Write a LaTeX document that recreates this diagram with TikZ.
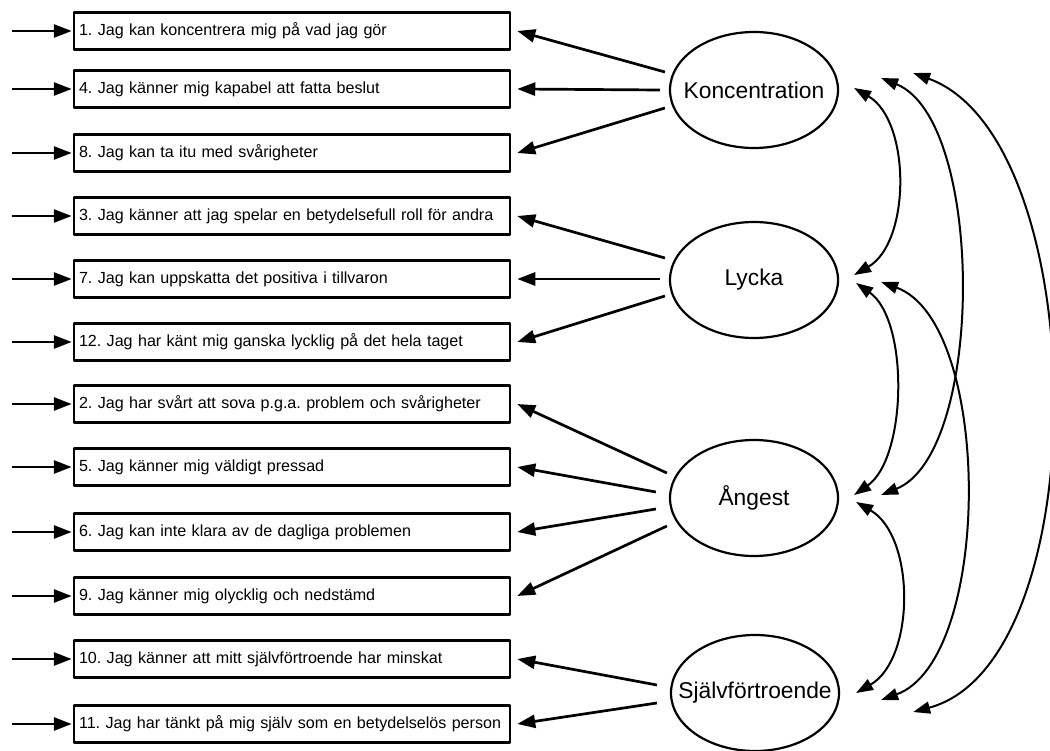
\documentclass[tikz,border=0pt]{standalone}
\usepackage{fontspec}
\setmainfont{Liberation Sans}
\usetikzlibrary{arrows.meta,shapes.geometric}
\tikzset{
  item/.style={draw, line width=2.5pt, minimum height=37pt, inner xsep=5pt, inner ysep=0pt,
    text width=426pt, align=left, font=\fontsize{16.1}{18}\selectfont},
  factor/.style={draw, ellipse, line width=2.2pt, minimum width=168pt, minimum height=116pt,
    inner sep=0pt, font=\fontsize{22.8}{26}\selectfont},
  tip/.style={-{Triangle[length=18pt,width=13pt]}, line width=2.7pt},
  cov/.style={{Triangle[length=17pt,width=12pt]}-{Triangle[length=17pt,width=12pt]}, line width=2pt},
}
\frenchspacing
\begin{document}
\begin{tikzpicture}[x=1pt,y=1pt, line join=round]
  \useasboundingbox (0,0) rectangle (1050,-751);
  % items
  \foreach \n/\y/\t in {1/31/{Jag kan koncentrera mig på vad jag gör},
      4/89/{Jag känner mig kapabel att fatta beslut},
      8/153/{Jag kan ta itu med svårigheter},
      3/216/{Jag känner att jag spelar en betydelsefull roll för andra},
      7/279/{Jag kan uppskatta det positiva i tillvaron},
      12/342/{Jag har känt mig ganska lycklig på det hela taget},
      2/404/{Jag har svårt att sova p.g.a. problem och svårigheter},
      5/467/{Jag känner mig väldigt pressad},
      6/532/{Jag kan inte klara av de dagliga problemen},
      9/596/{Jag känner mig olycklig och nedstämd},
      10/659/{Jag känner att mitt självförtroende har minskat},
      11/724/{Jag har tänkt på mig själv som en betydelselös person}}{
    \node[item] (b\n) at (292,-\y) {\mbox{\n. \t}};
    \draw[tip] ([xshift=-61pt]b\n.west) -- ([xshift=-1pt]b\n.west);
  }
  % factors
  \node[factor] (K) at (754,-90) {\makebox[0pt]{Koncentration}};
  \node[factor] (L) at (754,-280) {\makebox[0pt]{Lycka}};
  \node[factor] (A) at (754,-498) {\makebox[0pt]{Ångest}};
  \node[factor] (S) at (755,-693) {\makebox[0pt]{Självförtroende}};
  % loadings
  \draw[tip] ([xshift=-4pt,yshift=18pt]K.west) -- ([xshift=6pt]b1.east);
  \draw[tip] ([xshift=-9pt]K.west) -- ([xshift=6pt]b4.east);
  \draw[tip] ([xshift=-4pt,yshift=-18pt]K.west) -- ([xshift=6pt]b8.east);
  \draw[tip] ([xshift=-4pt,yshift=22pt]L.west) -- ([xshift=6pt]b3.east);
  \draw[tip] ([xshift=-9pt,yshift=1pt]L.west) -- ([xshift=6pt]b7.east);
  \draw[tip] ([xshift=-4pt,yshift=-16pt]L.west) -- ([xshift=6pt]b12.east);
  \draw[tip] ([xshift=-2pt,yshift=25pt]A.west) -- ([xshift=6pt]b2.east);
  \draw[tip] ([xshift=-13pt,yshift=6pt]A.west) -- ([xshift=6pt]b5.east);
  \draw[tip] ([xshift=-13pt,yshift=-11pt]A.west) -- ([xshift=6pt]b6.east);
  \draw[tip] ([xshift=-2pt,yshift=-28pt]A.west) -- ([xshift=6pt]b9.east);
  \draw[tip] ([xshift=-13pt,yshift=8pt]S.west) -- ([xshift=6pt]b10.east);
  \draw[tip] ([xshift=-13pt,yshift=-10pt]S.west) -- ([xshift=6pt]b11.east);
  % covariances
  \draw[cov] ([xshift=15pt,yshift=2pt]K.east) to[out=-30,in=30,looseness=0.9] ([xshift=15pt,yshift=5pt]L.east);
  \draw[cov] ([xshift=42pt,yshift=12pt]K.east) to[out=-22,in=22,looseness=0.69] ([xshift=42pt,yshift=3pt]A.east);
  \draw[cov] ([xshift=74pt,yshift=17pt]K.east) to[out=-20,in=15,looseness=0.77] ([xshift=73pt,yshift=-19pt]S.east);
  \draw[cov] ([xshift=17pt,yshift=-3pt]L.east) to[out=-35,in=35,looseness=0.78] ([xshift=15pt,yshift=3pt]A.east);
  \draw[cov] ([xshift=42pt,yshift=-2pt]L.east) to[out=-20,in=20,looseness=0.73] ([xshift=41pt,yshift=-7pt]S.east);
  \draw[cov] ([xshift=17pt,yshift=-4pt]A.east) to[out=-30,in=30,looseness=0.92] ([xshift=16pt]S.east);
\end{tikzpicture}
\end{document}
